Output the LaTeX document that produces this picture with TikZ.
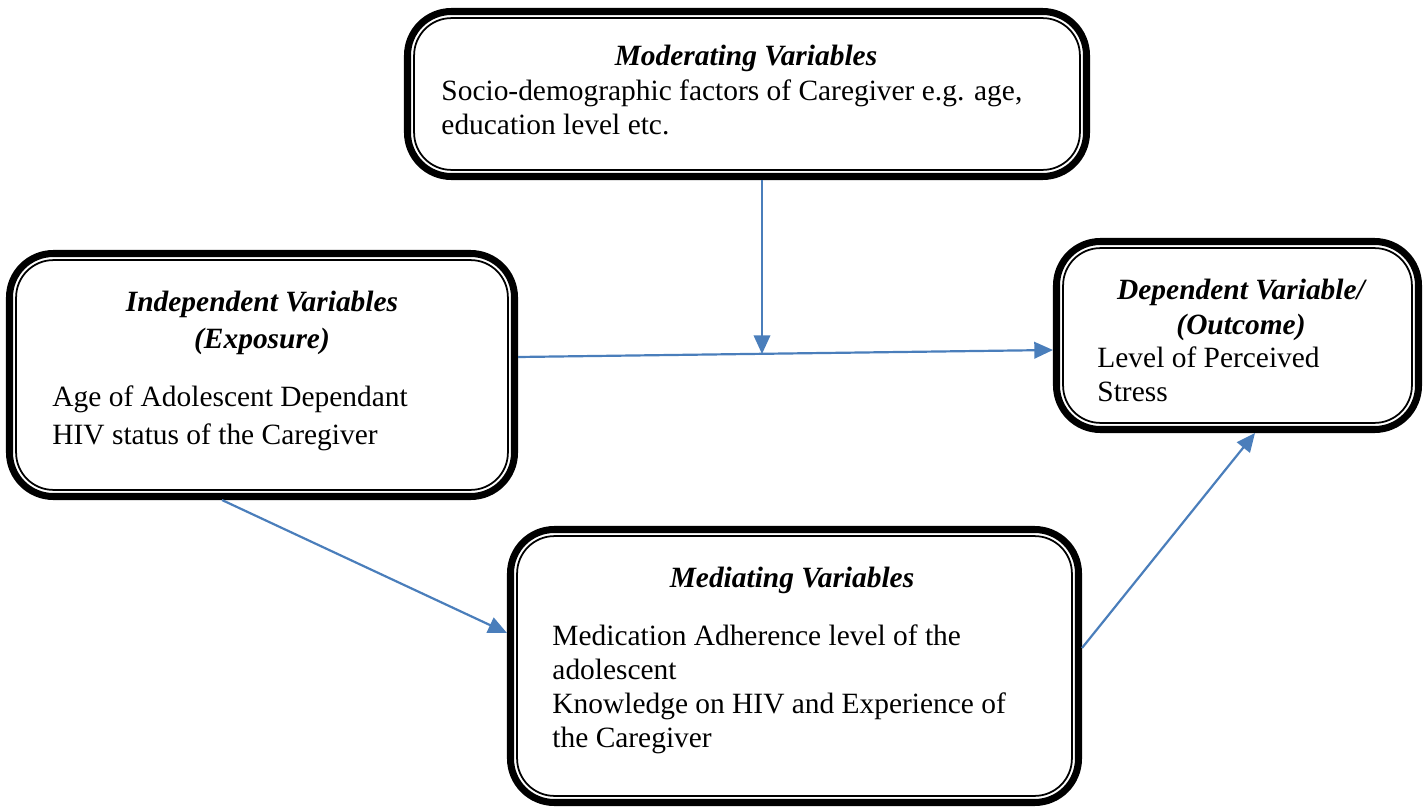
\documentclass[tikz,border=0pt]{standalone}
\usepackage{fontspec}
\setmainfont{Liberation Serif}
\usetikzlibrary{arrows.meta}
\definecolor{flowblue}{HTML}{4A7EBB}
\begin{document}
\begin{tikzpicture}[x=0.016cm,y=-0.016cm,font=\fontsize{13.4}{15.4}\selectfont,line join=round,
	varbox/.style={draw,line width=3.2pt,rounded corners=20pt,inner sep=0pt},
	innerline/.style={line width=0.8pt,rounded corners=17pt},
	flow/.style={draw=flowblue,line width=1pt,-{Triangle[length=8.5pt,width=7.5pt]}},
	head/.style={font=\fontsize{13.4}{15.8}\selectfont\bfseries\itshape,align=center,anchor=base},
	body/.style={align=left,anchor=base west,inner sep=0pt}]
	\def\u{0.016cm}
	\useasboundingbox (0,0) rectangle (1424,808);
	% boxes
	\node[varbox,minimum width=679*\u,minimum height=165*\u] (mod) at (747,94) {};
	\node[varbox,minimum width=505*\u,minimum height=243*\u] (ind) at (262,375) {};
	\node[varbox,minimum width=362*\u,minimum height=188*\u] (dep) at (1237.5,335.5) {};
	\node[varbox,minimum width=568*\u,minimum height=273*\u] (med) at (794.5,666) {};
	% inner thin line (anchors sit on the outer edge of the thick line)
	\foreach \n in {mod,ind,dep,med}
		\draw[innerline] ([shift={(4.6pt,4.6pt)}]\n.south west) rectangle ([shift={(-4.6pt,-4.6pt)}]\n.north east);
	% texts (anchored at the last line)
	\node[head] (modhead) at (746,66) {Moderating Variables};
	\node[body] (modtext) at (441,134) {Socio-demographic factors of Caregiver e.g. age,\\education level etc.};
	\node[head,font=\fontsize{13.4}{16.8}\selectfont\bfseries\itshape] (indhead) at (262,348) {Independent Variables\\(Exposure)};
	\node[body,font=\fontsize{13.4}{17.2}\selectfont] (indtext) at (52,444) {Age of Adolescent Dependant\\HIV status of the Caregiver};
	\node[head] (dephead) at (1241,334) {Dependent Variable/\\(Outcome)};
	\node[body] (deptext) at (1097,401) {Level of Perceived\\Stress};
	\node[head] (medhead) at (792,587) {Mediating Variables};
	\node[body] (medtext) at (552,747) {Medication Adherence level of the\\adolescent\\Knowledge on HIV and Experience of\\the Caregiver};
	% arrows
	\coordinate (jn) at (762,354);
	\draw[flow] (mod.south -| jn) -- (jn);
	\draw[flow] (ind.east |- 0,357) -- (dep.west |- 0,350);
	\draw[flow] (ind.south -| 222,0) -- (med.west |- 0,633);
	\draw[flow] (med.east |- 0,648) -- (dep.south -| 1255,0);
\end{tikzpicture}
\end{document}
